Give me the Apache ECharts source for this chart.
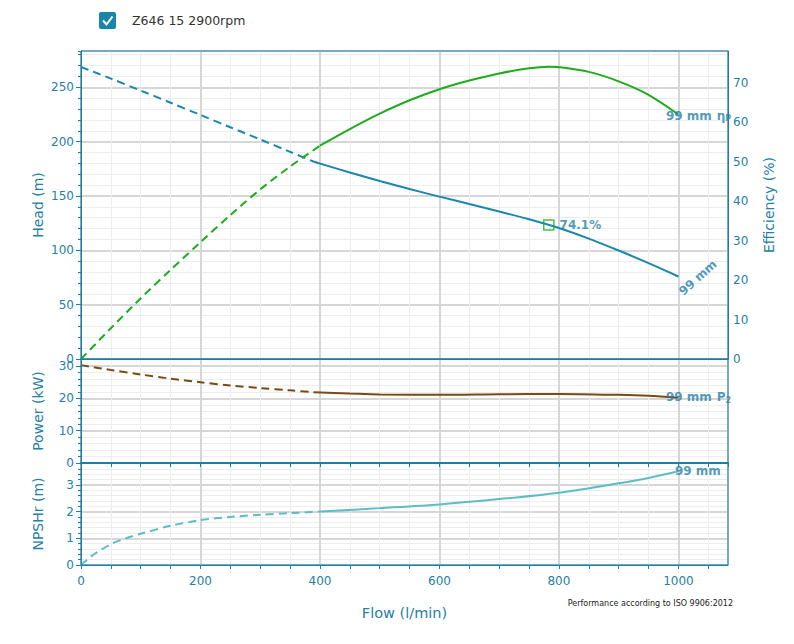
<!DOCTYPE html>
<html><head><meta charset="utf-8">
<script src="https://cdn.jsdelivr.net/npm/echarts@6/dist/echarts.min.js"></script>
<style>html,body{margin:0;padding:0;background:#fff}#c{width:794px;height:644px}</style>
</head><body><div id="c"></div>
<script>
// ---- data ----
const flowHeadDash = [0, 50, 100, 150, 200, 250, 300, 350, 390];
const headDash = [268.7, 258, 247, 235.8, 224.5, 213.2, 202, 190.6, 181.5];
const flowHeadSolid = [390, 450, 500, 550, 600, 650, 700, 750, 800, 850, 900, 950, 1000];
const headSolid = [181.5, 171.6, 163.8, 156.4, 149.4, 142.6, 135.8, 128.6, 120.6, 110.8, 99.8, 88.2, 75.9];

const flowEffDash = [0, 50, 100, 150, 200, 250, 300, 350, 400];
const effDash = [0, 7.8, 15.4, 22.6, 29.6, 36.5, 43.0, 48.8, 54.1];
const flowEffSolid = [400, 450, 500, 550, 600, 650, 700, 750, 783, 800, 850, 900, 950, 1000];
const effSolid = [54.1, 58.3, 62.2, 65.6, 68.4, 70.6, 72.4, 73.7, 74.1, 74.0, 72.8, 70.4, 67.0, 62.0];

const flowPowDash = [0, 50, 100, 150, 200, 250, 300, 350, 390];
const powDash = [30.3, 28.8, 27.4, 26.1, 25.0, 24.0, 23.2, 22.5, 21.9];
const flowPowSolid = [390, 450, 500, 600, 700, 800, 900, 950, 1000];
const powSolid = [21.9, 21.5, 21.2, 21.1, 21.3, 21.4, 21.1, 20.8, 20.2];

const flowNpshDash = [0, 10, 25, 50, 75, 100, 150, 200, 250, 300, 350, 400];
const npshDash = [0, 0.2, 0.45, 0.78, 1.0, 1.17, 1.47, 1.68, 1.8, 1.88, 1.94, 2.0];
const flowNpshSolid = [400, 500, 600, 700, 800, 900, 950, 1000];
const npshSolid = [2.0, 2.13, 2.27, 2.47, 2.71, 3.06, 3.26, 3.51];

const bepFlow = 783, bepHead = 123.3, bepLabel = '74.1%';
const curveLabel = '99 mm';
const legendText = 'Z646 15 2900rpm';
const noteText = 'Performance according to ISO 9906:2012';

// ---- style ----
const AX = '#1d7fa2', TXT = '#2580a8';
const MAJOR = '#d6d6d6', MINOR = '#ededed';
const FONT = 'DejaVu Sans';
const C_HEAD = '#1a87ae', C_EFF = '#1eab1e', C_POW = '#7b4a10', C_NPSH = '#5cbdc6';
const X_MAX = 1083;

const zip = (a, b) => a.map((v, i) => [v, b[i]]);
const isMult = (v, m) => { const r = v / m; return Math.abs(r - Math.round(r)) < 1e-6; };

function xMinor(i) {
  return {
    type: 'value', gridIndex: i, min: 0, max: X_MAX, interval: 50,
    axisLine: { show: true, onZero: false, lineStyle: { color: AX, width: i === 1 ? 2 : 1 } },
    axisTick: { show: i > 0, length: 4, lineStyle: { color: AX } },
    axisLabel: { show: i === 2, color: TXT, fontFamily: FONT, fontSize: 12, margin: 10,
      formatter: v => isMult(v, 200) ? String(v) : '' , showMaxLabel: false },
    splitLine: { show: true, lineStyle: { color: MINOR, width: 1 } },
    name: i === 2 ? 'Flow (l/min)' : '', nameLocation: 'middle', nameGap: 40, nameMoveOverlap: false,
    nameTextStyle: { color: TXT, fontFamily: FONT, fontSize: 14.5 }
  };
}
function xMajor(i) {
  return {
    type: 'value', gridIndex: i, min: 0, max: X_MAX, interval: 200, position: 'bottom',
    axisLine: { show: false }, axisTick: { show: false }, axisLabel: { show: false },
    splitLine: { show: true, lineStyle: { color: MAJOR, width: 2 } }
  };
}
function yMinor(g, max, iv) {
  return {
    type: 'value', gridIndex: g, min: 0, max: max, interval: iv, position: 'left',
    axisLine: { show: true, lineStyle: { color: AX } },
    axisTick: { show: true, length: 3, lineStyle: { color: AX } },
    axisLabel: { show: false },
    splitLine: { show: true, lineStyle: { color: MINOR, width: 1 } }
  };
}
function yMajor(g, max, iv, name) {
  return {
    type: 'value', gridIndex: g, min: 0, max: max, interval: iv, position: 'left',
    axisLine: { show: true, lineStyle: { color: AX } },
    axisTick: { show: true, length: 5, lineStyle: { color: AX } },
    axisLabel: { color: TXT, fontFamily: FONT, fontSize: 12, margin: 7,
      formatter: v => isMult(v, iv) ? String(Math.round(v)) : '', showMaxLabel: false },
    splitLine: { show: true, lineStyle: { color: MAJOR, width: 2 } },
    name: name, nameLocation: 'middle', nameGap: 36, nameMoveOverlap: false,
    nameTextStyle: { color: TXT, fontFamily: FONT, fontSize: 14 }
  };
}
function line(xi, yi, data, color, dashed) {
  return {
    type: 'line', xAxisIndex: xi, yAxisIndex: yi, data: data, smooth: 0.3,
    symbol: 'none', silent: true, z: 3,
    lineStyle: { color: color, width: 2, type: dashed ? [8, 5] : 'solid' }
  };
}
const lblStyle = { color: TXT, fontFamily: FONT, fontSize: 12, fontWeight: 'bold' };
function labelSeries(xi, yi, pt, label) {
  return {
    type: 'scatter', xAxisIndex: xi, yAxisIndex: yi, symbolSize: 1, silent: true, z: 6,
    itemStyle: { color: 'rgba(0,0,0,0)' },
    data: [{ value: pt, label: Object.assign({ show: true }, lblStyle, label) }]
  };
}
const sub = {
  s: { fontSize: 8, fontWeight: 'bold', color: TXT, fontFamily: FONT, padding: [6, 0, 0, 0] },
  g: { width: 5 }
};

const chart = echarts.init(document.getElementById('c'), null, { renderer: 'svg', width: 794, height: 644 });
chart.setOption({
  animation: false,
  backgroundColor: '#fff',
  title: { text: noteText, right: 61, top: 599, padding: 0,
    textStyle: { fontSize: 8, fontWeight: 'normal', color: '#222', fontFamily: FONT } },
  graphic: [
    { type: 'rect', shape: { x: 99, y: 12, width: 17, height: 17, r: 2 }, style: { fill: '#1a84aa' } },
    { type: 'polyline', shape: { points: [[103, 20.5], [106.5, 24.5], [112.5, 16.5]] },
      style: { stroke: '#fff', lineWidth: 2, fill: null } },
    { type: 'text', x: 132, y: 20.5, style: { text: legendText, fill: '#333', font: '12.5px "DejaVu Sans"', textVerticalAlign: 'middle' } }
  ],
  grid: [
    { left: 81, top: 51, width: 647, height: 308, show: true, borderColor: AX, borderWidth: 1, z: 4 },
    { left: 81, top: 359, width: 647, height: 104, show: true, borderColor: AX, borderWidth: 1, z: 4 },
    { left: 81, top: 463, width: 647, height: 102, show: true, borderColor: AX, borderWidth: 1, z: 4 }
  ],
  xAxis: [xMinor(0), xMinor(1), xMinor(2), xMajor(0), xMajor(1), xMajor(2)],
  yAxis: [
    yMinor(0, 283.4, 10),
    yMajor(0, 283.4, 50, 'Head (m)'),
    {
      type: 'value', gridIndex: 0, min: 0, max: 78.1, interval: 10, position: 'right',
      axisLine: { show: true, lineStyle: { color: AX } }, axisTick: { show: false },
      axisLabel: { color: TXT, fontFamily: FONT, fontSize: 12, margin: 5,
        formatter: v => isMult(v, 10) ? String(Math.round(v)) : '', showMaxLabel: false },
      splitLine: { show: false },
      name: 'Efficiency (%)', nameLocation: 'middle', nameGap: 34, nameMoveOverlap: false,
      nameTextStyle: { color: TXT, fontFamily: FONT, fontSize: 14 }
    },
    yMinor(1, 32.2, 2),
    yMajor(1, 32.2, 10, 'Power (kW)'),
    yMinor(2, 3.82, 0.2),
    yMajor(2, 3.82, 1, 'NPSHr (m)')
  ],
  series: [
    line(0, 1, zip(flowHeadDash, headDash), C_HEAD, true),
    line(0, 1, zip(flowHeadSolid, headSolid), C_HEAD, false),
    line(0, 2, zip(flowEffDash, effDash), C_EFF, true),
    line(0, 2, zip(flowEffSolid, effSolid), C_EFF, false),
    line(1, 4, zip(flowPowDash, powDash), C_POW, true),
    line(1, 4, zip(flowPowSolid, powSolid), C_POW, false),
    line(2, 6, zip(flowNpshDash, npshDash), C_NPSH, true),
    line(2, 6, zip(flowNpshSolid, npshSolid), C_NPSH, false),
    {
      type: 'scatter', xAxisIndex: 0, yAxisIndex: 1, data: [[bepFlow, bepHead]], silent: true, z: 8,
      symbol: 'rect', symbolSize: 10,
      itemStyle: { color: 'rgba(255,255,255,0)', borderColor: '#22aa22', borderWidth: 1.5 },
      label: Object.assign({ show: true, position: 'right', distance: 5, formatter: bepLabel }, lblStyle)
    },
    labelSeries(0, 1, [flowHeadSolid.at(-1), headSolid.at(-1)],
      { formatter: curveLabel, position: [3, 17], rotate: 42, align: 'left', verticalAlign: 'middle' }),
    labelSeries(0, 2, [flowEffSolid.at(-1), effSolid.at(-1)],
      { formatter: curveLabel + '{g| }η{s|P}', rich: sub, position: [-12, 2], align: 'left', verticalAlign: 'middle' }),
    labelSeries(1, 4, [flowPowSolid.at(-1), powSolid.at(-1)],
      { formatter: curveLabel + '{g| }P{s|2}', rich: sub, position: [-12, 0], align: 'left', verticalAlign: 'middle' }),
    labelSeries(2, 6, [flowNpshSolid.at(-1), npshSolid.at(-1)],
      { formatter: curveLabel, position: [-3, 0.5], align: 'left', verticalAlign: 'middle' })
  ]
});
</script>
</body></html>
